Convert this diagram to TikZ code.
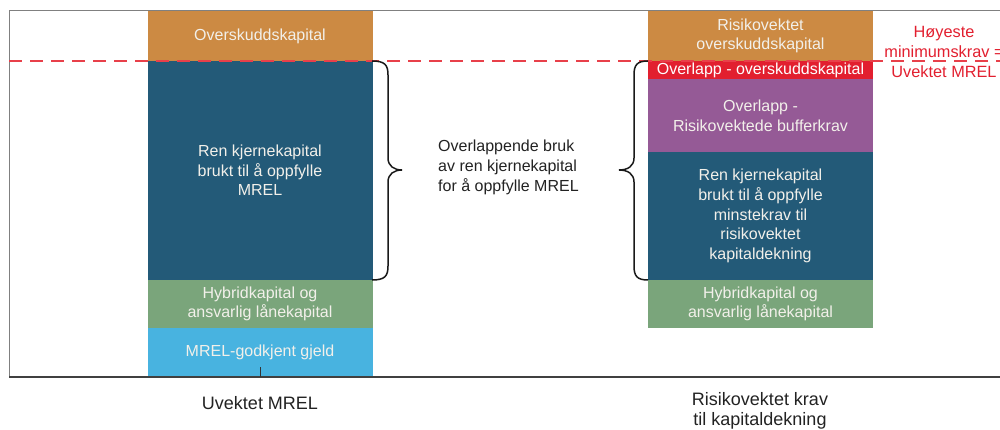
\documentclass[tikz,border=0pt]{standalone}
\usepackage{fontspec}
\setmainfont{Liberation Sans}
\definecolor{cOrange}{HTML}{CC8A43}
\definecolor{cDark}{HTML}{235A78}
\definecolor{cGreen}{HTML}{7AA57B}
\definecolor{cLight}{HTML}{48B3E0}
\definecolor{cRed}{HTML}{E21F2F}
\definecolor{cPurple}{HTML}{955A96}
\definecolor{cDash}{HTML}{E8404A}
\definecolor{cBoxText}{HTML}{F2F0EA}
\definecolor{cText}{HTML}{222222}
\tikzset{
  block/.style={rectangle, inner sep=0pt, minimum width=225pt, align=center,
    text=cBoxText, font=\fontsize{16}{19.6}\selectfont},
  lbl/.style={inner sep=0pt, align=center, text=cText, font=\fontsize{18}{20}\selectfont},
  midtxt/.style={inner sep=0pt, align=left, text=cText, font=\fontsize{16}{20}\selectfont},
  redtxt/.style={inner sep=0pt, align=center, text=cRed, font=\fontsize{16.3}{20}\selectfont},
  bracestyle/.style={line width=1.5pt, draw=black!90},
  frame/.style={line width=1pt, draw=black!50},
  axis/.style={line width=2pt, draw=black!75},
  reddash/.style={line width=2.5pt, draw=cDash, dash pattern=on 13pt off 8pt}
}
\begin{document}
\begin{tikzpicture}[x=1pt,y=-1pt]
\useasboundingbox (0,0) rectangle (1000,430);
% frame
\coordinate (fTL) at (9,11);
\coordinate (fTR) at (1000,11);
\coordinate (fBL) at (9,377);
\coordinate (fBR) at (1000,377);
% left column
\node[block, fill=cOrange, minimum height=50pt] (lOver) at (260,36) {Overskuddskapital};
\node[block, fill=cDark, minimum height=219pt] (lRen) at (260,170.5) {Ren kjernekapital\\brukt til å oppfylle\\MREL};
\node[block, fill=cGreen, minimum height=48pt] (lHyb) at (260,304) {Hybridkapital og\\ansvarlig lånekapital};
\node[block, fill=cLight, minimum height=49pt] (lMrel) at (260,352.5) {MREL-godkjent gjeld};
% right column
\node[block, fill=cOrange, minimum height=50pt] (rOver) at (760.5,36) {Risikovektet\\overskuddskapital};
\node[block, fill=cRed, minimum height=18pt, text=white] (rOvl) at (760.5,70) {Overlapp - overskuddskapital};
\node[block, fill=cPurple, minimum height=73pt] (rPur) at (760.5,115.5) {Overlapp -\\Risikovektede bufferkrav};
\node[block, fill=cDark, minimum height=128pt] (rRen) at (760.5,216) {Ren kjernekapital\\brukt til å oppfylle\\minstekrav til\\risikovektet\\kapitaldekning};
\node[block, fill=cGreen, minimum height=48pt] (rHyb) at (760.5,304) {Hybridkapital og\\ansvarlig lånekapital};
% frame and axis
\draw[frame] (fBL) -- (fTL) -- (fTR);
\draw[axis] (fBL) -- (fBR);
\coordinate (tickTop) at (260,367);
\coordinate (tickBot) at (260,377);
\draw[line width=1pt, black!80] (tickTop) -- (tickBot);
% dashed line
\coordinate (dL) at (9,61);
\coordinate (dR) at (1000,61);
\draw[reddash] (dL) -- (dR);
% braces
\draw[bracestyle] (372,61) .. controls (385,61) and (388,65) .. (388,75) -- (388,158)
  .. controls (388,166) and (394,170) .. (402,170)
  .. controls (394,170) and (388,174) .. (388,182) -- (388,266)
  .. controls (388,276) and (385,280) .. (372,280);
\draw[bracestyle] (648,61) .. controls (637,61) and (634,65) .. (634,75) -- (634,158)
  .. controls (634,166) and (628,170) .. (619,170)
  .. controls (628,170) and (634,174) .. (634,182) -- (634,266)
  .. controls (634,276) and (637,280) .. (648,280);
% middle text
\node[midtxt, anchor=west] (mid) at (438,167) {Overlappende bruk\\av ren kjernekapital\\for å oppfylle MREL};
% red label
\node[redtxt] (hoy) at (944,52) {Høyeste\\minimumskrav =\\Uvektet MREL};
% bottom labels
\node[lbl] (lUv) at (260,403) {Uvektet MREL};
\node[lbl, anchor=north] (lRisk) at (760,392) {Risikovektet krav\\til kapitaldekning};
\end{tikzpicture}
\end{document}
